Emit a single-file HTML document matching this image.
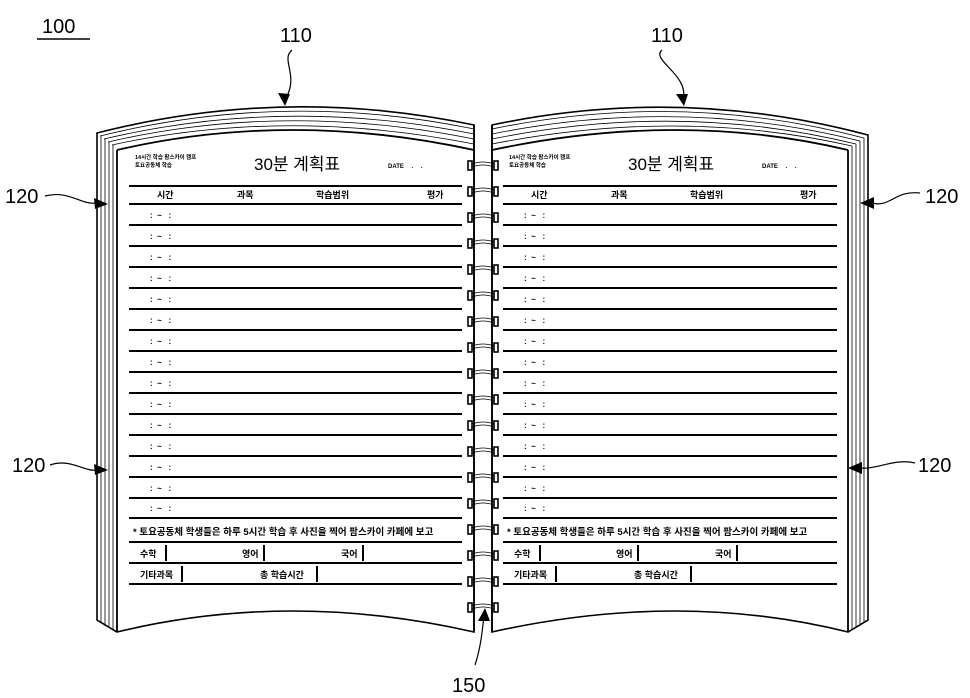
<!DOCTYPE html>
<html><head><meta charset="utf-8"><style>
html,body{margin:0;padding:0;background:#fff;}
svg{display:block;}
text{font-family:"Liberation Sans","Noto Sans CJK KR",sans-serif;fill:#000;}
.k{font-family:"Liberation Sans","Noto Sans CJK KR",sans-serif;font-weight:bold;}
</style></head><body>
<svg width="970" height="698" viewBox="0 0 970 698" xmlns="http://www.w3.org/2000/svg">
<defs>
<g id="ring">
  <rect x="468" y="-4" width="4" height="9" fill="#fff" stroke="#000" stroke-width="1.6"/>
  <rect x="494" y="-4" width="4" height="9" fill="#fff" stroke="#000" stroke-width="1.6"/>
  <path d="M472 -1 Q483 -5 494 -1 M472 2 Q483 -2 494 2" fill="none" stroke="#000" stroke-width="0.8"/>
</g>
</defs>

<!-- LEFT PAGE book body -->
<g fill="#fff" stroke="#000" stroke-width="1.6">
<path d="M97 133 Q285 85 474 125 L474 632 Q290 590 117 632 L97 620 Z"/>
</g>
<g fill="none" stroke="#000" stroke-width="0.8">
<path d="M100 136 Q285 90 474 129"/>
<path d="M104 139 Q285 96 474 134"/>
<path d="M108 142 Q285 101 474 139"/>
<path d="M112 145 Q285 107 474 144"/>
<line x1="101" y1="136" x2="101" y2="623"/>
<line x1="105" y1="139" x2="105" y2="626"/>
<line x1="109" y1="142" x2="109" y2="628"/>
<line x1="113" y1="145" x2="113" y2="630"/>
</g>
<g fill="none" stroke="#000" stroke-width="1.8">
<path d="M117 150 Q290 110 474 150"/>
<line x1="117" y1="150" x2="117" y2="632"/>
<line x1="474" y1="125" x2="474" y2="632"/>
</g>

<!-- RIGHT PAGE book body -->
<g fill="#fff" stroke="#000" stroke-width="1.6">
<path d="M492 125 Q680 85 868 135 L868 620 L848 632 Q680 590 492 632 Z"/>
</g>
<g fill="none" stroke="#000" stroke-width="0.8">
<path d="M492 129 Q680 90 864 138"/>
<path d="M492 134 Q680 96 860 141"/>
<path d="M492 139 Q680 101 856 144"/>
<path d="M492 144 Q680 107 852 146"/>
<line x1="864" y1="138" x2="864" y2="623"/>
<line x1="860" y1="141" x2="860" y2="626"/>
<line x1="856" y1="144" x2="856" y2="628"/>
<line x1="852" y1="146" x2="852" y2="630"/>
</g>
<g fill="none" stroke="#000" stroke-width="1.8">
<path d="M492 150 Q680 110 848 150"/>
<line x1="848" y1="150" x2="848" y2="632"/>
<line x1="492" y1="125" x2="492" y2="632"/>
</g>

<!-- rings -->
<use href="#ring" y="165"/><use href="#ring" y="191"/><use href="#ring" y="217"/><use href="#ring" y="243"/>
<use href="#ring" y="269"/><use href="#ring" y="295"/><use href="#ring" y="321"/><use href="#ring" y="347"/>
<use href="#ring" y="373"/><use href="#ring" y="399"/><use href="#ring" y="425"/><use href="#ring" y="451"/>
<use href="#ring" y="477"/><use href="#ring" y="503"/><use href="#ring" y="529"/><use href="#ring" y="555"/>
<use href="#ring" y="581"/><use href="#ring" y="607"/>

<!-- LEFT page content -->
<g stroke="#000" stroke-width="2">
<line x1="129" y1="186" x2="462" y2="186"/>
<line x1="129" y1="204" x2="462" y2="204"/>
<line x1="129" y1="225" x2="462" y2="225"/><line x1="129" y1="246" x2="462" y2="246"/>
<line x1="129" y1="267" x2="462" y2="267"/><line x1="129" y1="288" x2="462" y2="288"/>
<line x1="129" y1="309" x2="462" y2="309"/><line x1="129" y1="330" x2="462" y2="330"/>
<line x1="129" y1="351" x2="462" y2="351"/><line x1="129" y1="372" x2="462" y2="372"/>
<line x1="129" y1="393" x2="462" y2="393"/><line x1="129" y1="414" x2="462" y2="414"/>
<line x1="129" y1="435" x2="462" y2="435"/><line x1="129" y1="456" x2="462" y2="456"/>
<line x1="129" y1="477" x2="462" y2="477"/><line x1="129" y1="498" x2="462" y2="498"/>
<line x1="129" y1="518" x2="462" y2="518"/>
<line x1="129" y1="542" x2="462" y2="542"/>
<line x1="129" y1="563" x2="462" y2="563"/>
<line x1="129" y1="584" x2="462" y2="584"/>
<line x1="166" y1="545" x2="166" y2="561"/><line x1="264" y1="545" x2="264" y2="561"/><line x1="363" y1="545" x2="363" y2="561"/>
<line x1="182" y1="566" x2="182" y2="582"/><line x1="317" y1="566" x2="317" y2="582"/>
</g>
<g class="k">
<text x="135" y="159" font-size="5.5">14시간 학습 팜스카이 캠프</text>
<text x="135" y="167" font-size="5.5">토요공동체 학습</text>
<text x="254" y="170" font-size="17" font-weight="normal">30분 계획표</text>
<text x="388" y="168" font-size="6">DATE　 .　 .</text>
<text x="157" y="198" font-size="9">시간</text>
<text x="237" y="198" font-size="9">과목</text>
<text x="316" y="198" font-size="9">학습범위</text>
<text x="427" y="198" font-size="9">평가</text>
<text x="133" y="535" font-size="9.5">* 토요공동체 학생들은 하루 5시간 학습 후 사진을 찍어 팜스카이 카페에 보고</text>
<text x="140" y="557" font-size="9">수학</text>
<text x="242" y="557" font-size="9">영어</text>
<text x="341" y="557" font-size="9">국어</text>
<text x="140" y="578" font-size="9">기타과목</text>
<text x="260" y="578" font-size="9">총 학습시간</text>
</g>
<g font-size="8" font-weight="bold">
<text x="150" y="218">:&#160;&#160;~&#160;&#160;&#160;:</text><text x="150" y="239">:&#160;&#160;~&#160;&#160;&#160;:</text><text x="150" y="260">:&#160;&#160;~&#160;&#160;&#160;:</text>
<text x="150" y="281">:&#160;&#160;~&#160;&#160;&#160;:</text><text x="150" y="302">:&#160;&#160;~&#160;&#160;&#160;:</text><text x="150" y="323">:&#160;&#160;~&#160;&#160;&#160;:</text>
<text x="150" y="344">:&#160;&#160;~&#160;&#160;&#160;:</text><text x="150" y="365">:&#160;&#160;~&#160;&#160;&#160;:</text><text x="150" y="386">:&#160;&#160;~&#160;&#160;&#160;:</text>
<text x="150" y="407">:&#160;&#160;~&#160;&#160;&#160;:</text><text x="150" y="428">:&#160;&#160;~&#160;&#160;&#160;:</text><text x="150" y="449">:&#160;&#160;~&#160;&#160;&#160;:</text>
<text x="150" y="470">:&#160;&#160;~&#160;&#160;&#160;:</text><text x="150" y="491">:&#160;&#160;~&#160;&#160;&#160;:</text><text x="150" y="511">:&#160;&#160;~&#160;&#160;&#160;:</text>
</g>

<!-- RIGHT page content -->
<g stroke="#000" stroke-width="2">
<line x1="503" y1="186" x2="837" y2="186"/>
<line x1="503" y1="204" x2="837" y2="204"/>
<line x1="503" y1="225" x2="837" y2="225"/><line x1="503" y1="246" x2="837" y2="246"/>
<line x1="503" y1="267" x2="837" y2="267"/><line x1="503" y1="288" x2="837" y2="288"/>
<line x1="503" y1="309" x2="837" y2="309"/><line x1="503" y1="330" x2="837" y2="330"/>
<line x1="503" y1="351" x2="837" y2="351"/><line x1="503" y1="372" x2="837" y2="372"/>
<line x1="503" y1="393" x2="837" y2="393"/><line x1="503" y1="414" x2="837" y2="414"/>
<line x1="503" y1="435" x2="837" y2="435"/><line x1="503" y1="456" x2="837" y2="456"/>
<line x1="503" y1="477" x2="837" y2="477"/><line x1="503" y1="498" x2="837" y2="498"/>
<line x1="503" y1="518" x2="837" y2="518"/>
<line x1="503" y1="542" x2="837" y2="542"/>
<line x1="503" y1="563" x2="837" y2="563"/>
<line x1="503" y1="584" x2="837" y2="584"/>
<line x1="540" y1="545" x2="540" y2="561"/><line x1="638" y1="545" x2="638" y2="561"/><line x1="737" y1="545" x2="737" y2="561"/>
<line x1="556" y1="566" x2="556" y2="582"/><line x1="691" y1="566" x2="691" y2="582"/>
</g>
<g class="k">
<text x="509" y="159" font-size="5.5">14시간 학습 팜스카이 캠프</text>
<text x="509" y="167" font-size="5.5">토요공동체 학습</text>
<text x="628" y="170" font-size="17" font-weight="normal">30분 계획표</text>
<text x="762" y="168" font-size="6">DATE　 .　 .</text>
<text x="531" y="198" font-size="9">시간</text>
<text x="611" y="198" font-size="9">과목</text>
<text x="690" y="198" font-size="9">학습범위</text>
<text x="800" y="198" font-size="9">평가</text>
<text x="507" y="535" font-size="9.5">* 토요공동체 학생들은 하루 5시간 학습 후 사진을 찍어 팜스카이 카페에 보고</text>
<text x="514" y="557" font-size="9">수학</text>
<text x="616" y="557" font-size="9">영어</text>
<text x="715" y="557" font-size="9">국어</text>
<text x="514" y="578" font-size="9">기타과목</text>
<text x="634" y="578" font-size="9">총 학습시간</text>
</g>
<g font-size="8" font-weight="bold">
<text x="524" y="218">:&#160;&#160;~&#160;&#160;&#160;:</text><text x="524" y="239">:&#160;&#160;~&#160;&#160;&#160;:</text><text x="524" y="260">:&#160;&#160;~&#160;&#160;&#160;:</text>
<text x="524" y="281">:&#160;&#160;~&#160;&#160;&#160;:</text><text x="524" y="302">:&#160;&#160;~&#160;&#160;&#160;:</text><text x="524" y="323">:&#160;&#160;~&#160;&#160;&#160;:</text>
<text x="524" y="344">:&#160;&#160;~&#160;&#160;&#160;:</text><text x="524" y="365">:&#160;&#160;~&#160;&#160;&#160;:</text><text x="524" y="386">:&#160;&#160;~&#160;&#160;&#160;:</text>
<text x="524" y="407">:&#160;&#160;~&#160;&#160;&#160;:</text><text x="524" y="428">:&#160;&#160;~&#160;&#160;&#160;:</text><text x="524" y="449">:&#160;&#160;~&#160;&#160;&#160;:</text>
<text x="524" y="470">:&#160;&#160;~&#160;&#160;&#160;:</text><text x="524" y="491">:&#160;&#160;~&#160;&#160;&#160;:</text><text x="524" y="511">:&#160;&#160;~&#160;&#160;&#160;:</text>
</g>

<!-- labels leaders (on top) -->
<g fill="none" stroke="#000">
<line x1="37" y1="39" x2="90" y2="39" stroke-width="1.5"/>
<path d="M292 50 C280 60 300 75 285 100" stroke-width="1.2"/>
<path d="M662 50 C650 60 690 75 683 100" stroke-width="1.2"/>
<path d="M45 196 C70 190 80 205 96 203" stroke-width="1.2"/>
<path d="M50 465 C70 458 85 472 96 470" stroke-width="1.2"/>
<path d="M920 193 C895 190 890 208 872 203" stroke-width="1.2"/>
<path d="M915 463 C895 458 875 470 860 468" stroke-width="1.2"/>
<path d="M475 665 C480 650 482 635 484 615" stroke-width="1.2"/>
</g>
<g fill="#000">
<polygon points="285,106 278,93 290,94"/>
<polygon points="684,106 676,94 688,94"/>
<polygon points="108,204 94,198 95,209"/>
<polygon points="108,470 94,464 95,475"/>
<polygon points="860,203 874,197 874,209"/>
<polygon points="848,468 862,462 862,474"/>
<polygon points="485,608 478,621 490,621"/>
</g>
<g font-size="20">
<text x="42" y="33">100</text>
<text x="280" y="42">110</text>
<text x="651" y="42">110</text>
<text x="5" y="203">120</text>
<text x="12" y="472">120</text>
<text x="925" y="203">120</text>
<text x="918" y="472">120</text>
<text x="452" y="692">150</text>
</g>
</svg>
</body></html>
